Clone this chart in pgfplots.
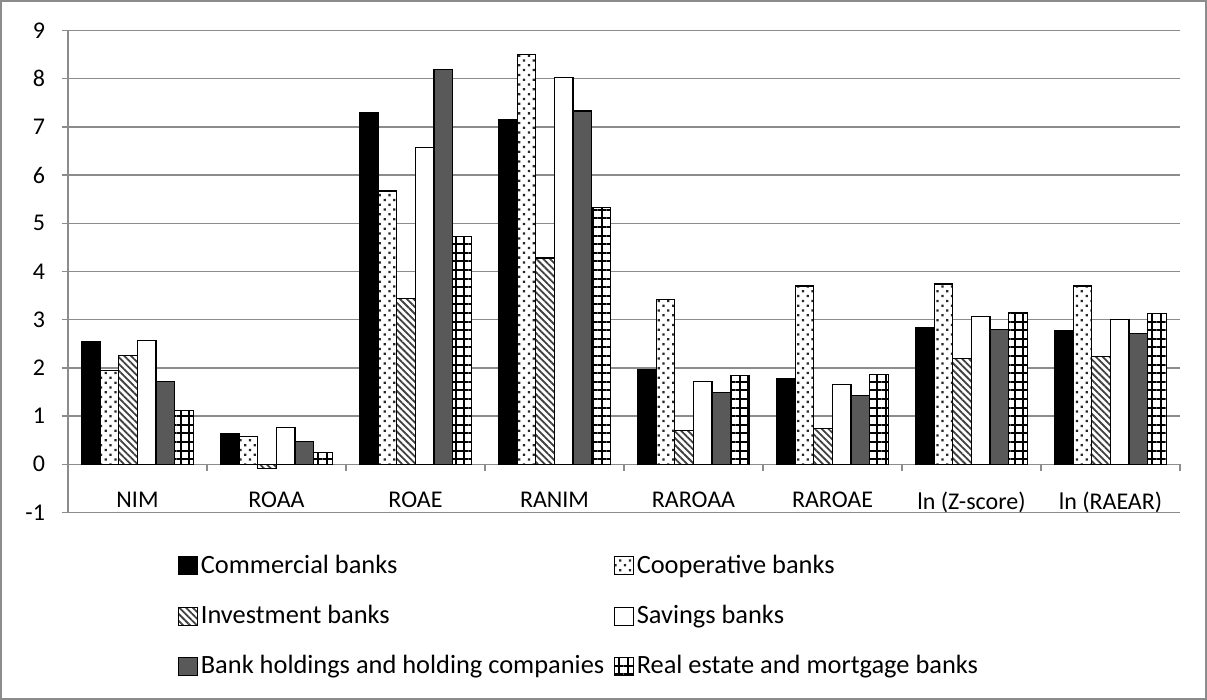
\documentclass[border=0pt]{standalone}
\usepackage{fontspec}
\setmainfont{Carlito}
\usepackage{pgfplots}
\pgfplotsset{compat=1.18}
\usetikzlibrary{patterns.meta}

\definecolor{axgray}{RGB}{140,140,140}
\definecolor{holdgray}{RGB}{89,89,89}

\pgfplotsset{
  bankbar/.style={draw=black, line width=0.6pt},
  barkey/.style={legend image code/.code={%
      \draw[##1, line width=0.5pt] (0pt,-4.6pt) rectangle (9.2pt,4.4pt);}},
}

\begin{document}
\begin{tikzpicture}
\useasboundingbox (0,0) rectangle (603.5pt,350pt);
\draw[axgray, line width=0.6pt] (0.5pt,0.5pt) rectangle (603pt,349.5pt);
\begin{axis}[
    at={(34pt,93.75pt)}, anchor=south west,
    scale only axis,
    width=556pt, height=241pt,
    ybar=0pt, bar width=9.3pt,
    xmin=0.5, xmax=8.5,
    ymin=-1, ymax=9,
    ytick={-1,0,...,9},
    xtick={1,...,8},
    xticklabels={NIM, ROAA, ROAE, RANIM, RAROAA, RAROAE, ln (Z-score), ln (RAEAR)},
    minor xtick={0.5,1.5,...,8.5},
    axis x line=middle, axis y line=left,
    axis line style={-, axgray, line width=0.75pt},
    hide obscured x ticks=false, hide obscured y ticks=false,
    tick align=outside,
    major tick length=3pt,
    minor tick length=3.5pt,
    x tick style={draw=none},
    minor x tick style={draw=axgray, line width=0.75pt},
    y tick style={axgray, line width=0.75pt},
    ymajorgrids,
    major grid style={axgray, line width=0.75pt},
    tick label style={font=\fontsize{12}{14}\selectfont, text=black},
    /pgf/number format/assume math mode=true,
    xticklabel style={yshift=-7.5pt},
    yticklabel style={xshift=-5pt},
    every axis plot/.append style={bankbar, barkey},
    legend columns=2,
    legend cell align=left,
    legend style={draw=none, fill=none, inner sep=0pt,
        at={(rel axis cs:0.099,-0.079)}, anchor=north west,
        font=\fontsize{13.2}{15}\selectfont,
        nodes={inner xsep=1.5pt},
        /tikz/every odd column/.style={column sep=0pt},
        /tikz/every even column/.style={column sep=3.5pt},
        row sep=10.5pt},
]
\addplot[fill=black] coordinates {
  (1,2.54) (2,0.63) (3,7.30) (4,7.16) (5,1.97) (6,1.77) (7,2.83) (8,2.77)};
\addlegendentry{Commercial banks}
\addplot[fill=white, postaction={pattern={Dots[distance=3.4pt, radius=0.8pt, angle=45]}, pattern color=black!85}] coordinates {
  (1,1.94) (2,0.57) (3,5.67) (4,8.50) (5,3.42) (6,3.70) (7,3.74) (8,3.70)};
\addlegendentry{Cooperative banks}
\addplot[fill=white, postaction={pattern={Lines[distance=2.4pt, angle=-45, line width=0.9pt]}, pattern color=black!75}] coordinates {
  (1,2.25) (2,-0.08) (3,3.44) (4,4.28) (5,0.70) (6,0.74) (7,2.20) (8,2.23)};
\addlegendentry{Investment banks}
\addplot[fill=white] coordinates {
  (1,2.57) (2,0.77) (3,6.58) (4,8.02) (5,1.71) (6,1.65) (7,3.06) (8,3.01)};
\addlegendentry{Savings banks}
\addplot[fill=holdgray] coordinates {
  (1,1.71) (2,0.48) (3,8.19) (4,7.33) (5,1.49) (6,1.42) (7,2.79) (8,2.72)};
\addlegendentry{Bank holdings and holding companies}
\addplot[fill=white, postaction={pattern={Hatch[distance=4.3pt, angle=0, line width=1pt]}, pattern color=black}] coordinates {
  (1,1.12) (2,0.24) (3,4.72) (4,5.33) (5,1.85) (6,1.87) (7,3.15) (8,3.13)};
\addlegendentry{Real estate and mortgage banks}
\end{axis}
\end{tikzpicture}
\end{document}
